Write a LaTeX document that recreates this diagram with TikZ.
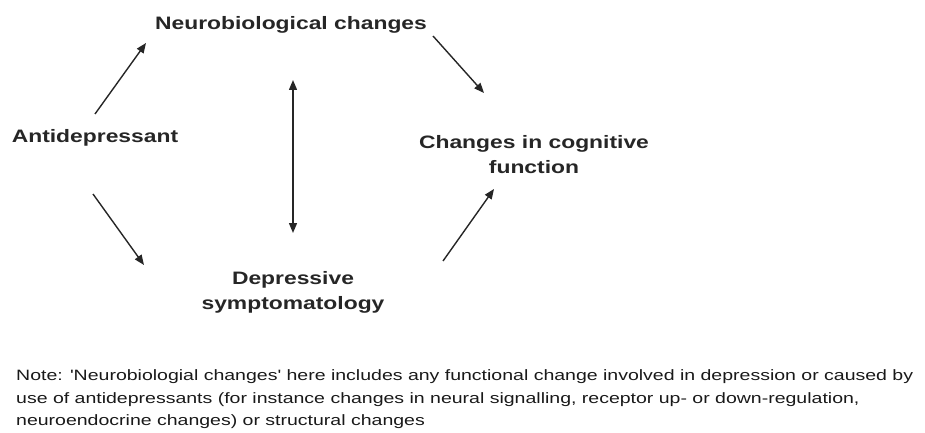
\documentclass[tikz,border=0pt]{standalone}
\usepackage{fontspec}
\setmainfont{Liberation Sans}
\newfontfamily\widesans[FakeStretch=1.27]{Liberation Sans}
\newfontfamily\notesans[FakeStretch=1.30]{Liberation Sans}
\usetikzlibrary{arrows.meta}
\begin{document}
\begin{tikzpicture}[x=1pt,y=-1pt,
  lbl/.style={font=\widesans\fontsize{18}{25}\selectfont\bfseries, align=center, inner sep=0pt, text=black!85},
  conn/.style={line width=1.4pt, black!85, -{Triangle[length=10pt,width=8pt]}},
  dconn/.style={line width=1.4pt, black!85, {Triangle[length=10pt,width=8pt]}-{Triangle[length=10pt,width=8pt]}},
  notetext/.style={font=\notesans\fontsize{15}{22.5}\selectfont, align=left, inner sep=0pt, anchor=base west, text=black!90}
]
\useasboundingbox (0,0) rectangle (925,433);
\node[lbl] (nb) at (291,25) {Neurobiological changes};
\node[lbl] (ad) at (95,138) {Antidepressant};
\node[lbl] (cc) at (534,155) {Changes in cognitive\\function};
\node[lbl] (ds) at (293,292) {Depressive\\symptomatology};
\node[notetext] (note) at (16,425.5) {Note: 'Neurobiologial changes' here includes any functional change involved in depression or caused by\\use of antidepressants (for instance changes in neural signalling, receptor up- or down-regulation,\\neuroendocrine changes) or structural changes};
\coordinate (a1s) at (95,114);
\coordinate (a1e) at (146,43);
\coordinate (a2s) at (433,36);
\coordinate (a2e) at (484,93);
\coordinate (a3s) at (93,194);
\coordinate (a3e) at (144,265);
\coordinate (a4s) at (443,261);
\coordinate (a4e) at (494,189);
\coordinate (a5s) at (293,80);
\coordinate (a5e) at (293,233);
\draw[conn] (a1s) -- (a1e);
\draw[conn] (a2s) -- (a2e);
\draw[conn] (a3s) -- (a3e);
\draw[conn] (a4s) -- (a4e);
\draw[dconn] (a5s) -- (a5e);
\end{tikzpicture}
\end{document}
